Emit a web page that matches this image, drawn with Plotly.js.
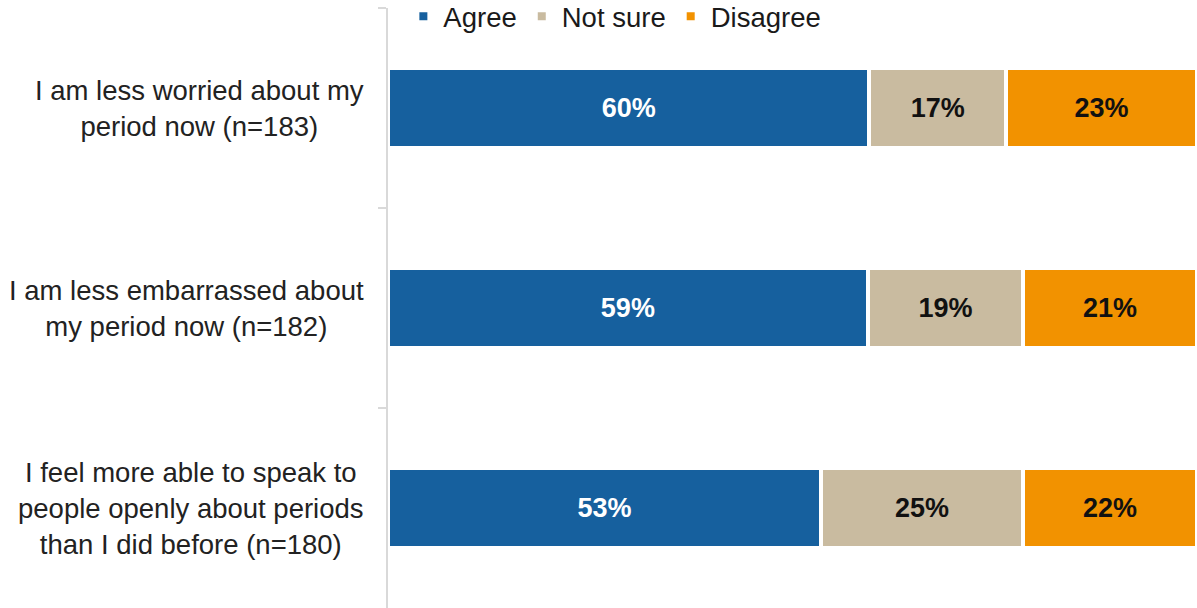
<!DOCTYPE html>
<html>
<head>
<meta charset="utf-8">
<script src="https://cdn.plot.ly/plotly-3.0.1.min.js"></script>
<style>html,body{margin:0;padding:0;background:#fff;}#chart{width:1197px;height:608px;}</style>
</head>
<body>
<div id="chart"></div>
<script>
// Categories (top to bottom)
var categories = ["worried", "embarrassed", "speak"];
var categoryLabels = [
  "I am less worried about my<br>period now (n=183)",
  "I am less embarrassed about<br>my period now (n=182)",
  "I feel more able to speak to<br>people openly about periods<br>than I did before (n=180)"
];
// Series names and colours
var seriesNames = ["Agree", "Not sure", "Disagree"];
var seriesColors = ["#16609e", "#c9bba0", "#f29200"];
// Series values (percent)
var agree    = [59.5, 59.3, 53.5];
var notSure  = [16.9, 19.2, 25.0];
var disagree = [23.6, 21.5, 21.5];
// Displayed data labels
var agreeLabels    = ["60%", "59%", "53%"];
var notSureLabels  = ["17%", "19%", "25%"];
var disagreeLabels = ["23%", "21%", "22%"];

var FONT = "Liberation Sans, Arial, sans-serif";

function barTrace(idx, values, labels, textColor) {
  return {
    type: "bar",
    orientation: "h",
    name: seriesNames[idx],
    x: values,
    y: categories,
    width: 0.4,
    text: labels,
    textposition: "inside",
    insidetextanchor: "middle",
    constraintext: "none",
    textfont: {family: FONT, size: 27, color: textColor, weight: "bold"},
    marker: {color: seriesColors[idx], line: {color: "#ffffff", width: 4}},
    hoverinfo: "none"
  };
}

var data = [
  barTrace(0, agree, agreeLabels, "#ffffff"),
  barTrace(1, notSure, notSureLabels, "#111111"),
  barTrace(2, disagree, disagreeLabels, "#111111")
];

var annotations = categories.map(function (c, i) {
  return {
    xref: "paper", x: 0, xanchor: "right", xshift: -22,
    yref: "y", y: c, yanchor: "middle",
    text: categoryLabels[i], align: "center", showarrow: false,
    font: {family: FONT, size: 27.5, color: "#222222"}
  };
});

var layout = {
  width: 1197, height: 608,
  margin: {l: 388, r: 0, t: 8, b: 0, autoexpand: false},
  paper_bgcolor: "#ffffff", plot_bgcolor: "#ffffff",
  barmode: "stack",
  font: {family: FONT, size: 27, color: "#1a1a1a"},
  showlegend: true,
  legend: {
    orientation: "h", x: 0.019, xanchor: "left", y: 1.027, yanchor: "top",
    font: {family: FONT, size: 27.5, color: "#1a1a1a"},
    bgcolor: "rgba(0,0,0,0)", traceorder: "normal"
  },
  xaxis: {range: [0, 100], visible: false, fixedrange: true},
  yaxis: {
    type: "category", categoryorder: "array", categoryarray: categories,
    autorange: "reversed",
    showticklabels: false, showgrid: false, zeroline: false,
    showline: true, linecolor: "#d9d9d9", linewidth: 2,
    ticks: "outside", tickson: "boundaries", ticklen: 8, tickcolor: "#d9d9d9", tickwidth: 2
  },
  annotations: annotations
};

Plotly.newPlot("chart", data, layout, {displayModeBar: false, staticPlot: true});
</script>
</body>
</html>
